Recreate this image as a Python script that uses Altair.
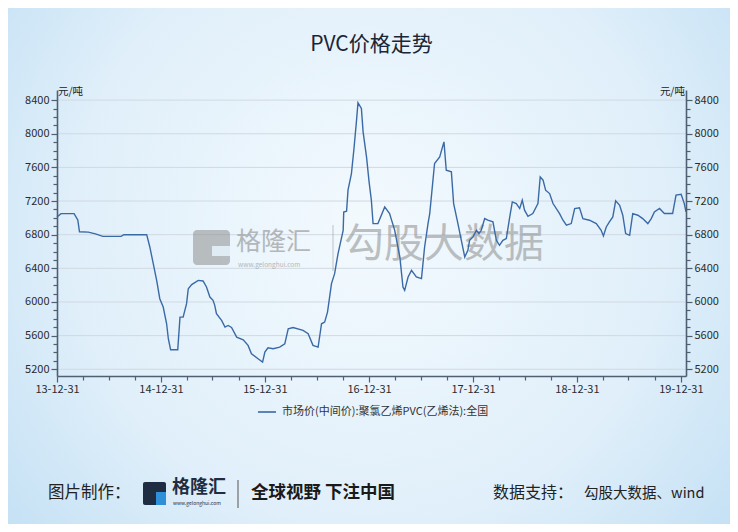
import altair as alt
import pandas as pd

# ---------------- data ----------------
dates = [
    "2013-12-31", "2014-01-14", "2014-03-01", "2014-03-14", "2014-03-20", "2014-04-20",
    "2014-05-15", "2014-06-10", "2014-08-13", "2014-08-23", "2014-11-11", "2014-11-22",
    "2014-12-04", "2014-12-16", "2014-12-27", "2015-01-08", "2015-01-20", "2015-01-26",
    "2015-02-03", "2015-02-28", "2015-03-08", "2015-03-19", "2015-03-31", "2015-04-06",
    "2015-04-18", "2015-05-11", "2015-05-28", "2015-06-09", "2015-06-21", "2015-07-02",
    "2015-07-08", "2015-07-14", "2015-08-01", "2015-08-13", "2015-08-24", "2015-09-05",
    "2015-09-23", "2015-10-16", "2015-11-02", "2015-11-14", "2015-12-07", "2015-12-23",
    "2015-12-31", "2016-01-11", "2016-01-29", "2016-02-21", "2016-03-10", "2016-03-22",
    "2016-04-08", "2016-05-13", "2016-05-31", "2016-06-17", "2016-07-05", "2016-07-17",
    "2016-07-28", "2016-08-07", "2016-08-21", "2016-09-01", "2016-09-13", "2016-10-01",
    "2016-10-03", "2016-10-13", "2016-10-18", "2016-10-30", "2016-11-08", "2016-11-17",
    "2016-11-22", "2016-12-04", "2016-12-10", "2016-12-22", "2016-12-31", "2017-01-08",
    "2017-01-14", "2017-01-31", "2017-02-24", "2017-03-13", "2017-03-31", "2017-04-18",
    "2017-04-29", "2017-05-05", "2017-05-17", "2017-05-29", "2017-06-15", "2017-07-03",
    "2017-07-14", "2017-07-26", "2017-08-01", "2017-08-18", "2017-09-05", "2017-09-20",
    "2017-09-28", "2017-10-16", "2017-10-24", "2017-11-08", "2017-11-20", "2017-12-02",
    "2017-12-13", "2017-12-19", "2017-12-31", "2018-01-12", "2018-01-21", "2018-01-29",
    "2018-02-10", "2018-02-21", "2018-03-11", "2018-03-23", "2018-04-03", "2018-04-15",
    "2018-04-27", "2018-05-09", "2018-05-18", "2018-06-01", "2018-06-13", "2018-06-22",
    "2018-06-30", "2018-07-12", "2018-07-29", "2018-08-16", "2018-08-24", "2018-09-03",
    "2018-09-12", "2018-09-26", "2018-10-08", "2018-10-31", "2018-11-12", "2018-11-24",
    "2018-12-11", "2018-12-23", "2019-01-09", "2019-01-21", "2019-02-13", "2019-03-09",
    "2019-03-26", "2019-04-03", "2019-04-13", "2019-04-24", "2019-05-06", "2019-05-16",
    "2019-05-30", "2019-06-10", "2019-06-20", "2019-07-04", "2019-07-15", "2019-08-02",
    "2019-08-19", "2019-09-06", "2019-09-18", "2019-09-29", "2019-10-17", "2019-11-03",
    "2019-12-02", "2019-12-14", "2020-01-01", "2020-01-12", "2020-01-18",
]
prices = [
    7010, 7050, 7050, 6975, 6835, 6830,
    6810, 6780, 6780, 6800, 6800, 6654,
    6456, 6257, 6039, 5940, 5741, 5563,
    5432, 5432, 5820, 5820, 5980, 6158,
    6206, 6257, 6250, 6178, 6059, 6019,
    5960, 5860, 5781, 5701, 5721, 5697,
    5582, 5551, 5484, 5384, 5325, 5285,
    5404, 5456, 5444, 5464, 5503, 5682,
    5697, 5662, 5622, 5484, 5464, 5741,
    5761, 5880, 6218, 6337, 6575, 6852,
    7070, 7080, 7329, 7527, 7825, 8162,
    8368, 8301, 8023, 7725, 7428, 7210,
    6932, 6932, 7130, 7051, 6852, 6535,
    6178, 6138, 6297, 6376, 6297, 6277,
    6654, 6932, 7051, 7646, 7725, 7904,
    7567, 7547, 7170, 6932, 6733, 6535,
    6614, 6733, 6773, 6852, 6812, 6852,
    6991, 6972, 6952, 6733, 6674, 6733,
    6753, 7011, 7190, 7170, 7111, 7210,
    7091, 7018, 7051, 7170, 7487, 7448,
    7329, 7289, 7170, 7051, 6972, 6912,
    6932, 7111, 7120, 6991, 6972, 6932,
    6852, 6785, 6892, 6952, 7011, 7202,
    7150, 7031, 6813, 6793, 7051, 7031,
    6991, 6932, 6991, 7070, 7111, 7051,
    7051, 7270, 7280, 7170, 7070,
]

y_tick_values = list(range(5200, 8401, 100))
y_grid_values = list(range(5200, 8401, 400))
x_tick_years = [2014, 2015, 2016, 2017, 2018, 2019]
quarter_ends = [(3, 31), (6, 30), (9, 30), (12, 31)]

title_text = "PVC价格走势"
unit_text = "元/吨"
legend_text = "市场价(中间价):聚氯乙烯PVC(乙烯法):全国"
wm_brand = "格隆汇"
wm_site = "www.gelonghui.com"
wm_data = "勾股大数据"
footer_made = "图片制作："
footer_slogan = "全球视野 下注中国"
footer_src_label = "数据支持："
footer_src = "勾股大数据、wind"

# ---------------- chart ----------------
df = pd.DataFrame({"date": dates, "price": prices})
grid_df = pd.DataFrame({"g": y_grid_values})

W, H = 629, 286
PAD_L, PAD_T = 49, 82
CANVAS_W, CANVAS_H = 722, 516
FONT = "Noto Sans CJK SC"
AXIS_COLOR = "#4e6072"
LABEL_COLOR = "#2b2b2b"
LINE_COLOR = "#3a6aa6"

x_ticks = [alt.DateTime(year=2013, month=12, date=31, utc=True)]
for yr in x_tick_years:
    for m, d in quarter_ends:
        x_ticks.append(alt.DateTime(year=yr, month=m, date=d, utc=True))

x_scale = alt.Scale(
    type="utc",
    domain=[alt.DateTime(year=2013, month=12, date=31, utc=True),
            alt.DateTime(year=2020, month=1, date=18, utc=True)],
)
y_scale = alt.Scale(domain=[5120, 8520], nice=False, zero=False)

major_x = "utcmonth(datum.value) === 11"
major_y = "datum.value % 400 === 0"

x_axis = alt.Axis(
    values=x_ticks,
    labelExpr=f"{major_x} ? utcFormat(datum.value, '%y-%m-%d') : ''",
    tickSize={"condition": {"test": major_x, "value": 6}, "value": 4},
    grid=False, title=None, labelOverlap=False, labelFlush=False, zindex=1,
    domainColor=AXIS_COLOR, domainWidth=1.6, tickColor=AXIS_COLOR, tickWidth=1.2,
    labelColor=LABEL_COLOR, labelFontSize=11, labelFont=FONT, labelPadding=1,
)


def y_axis(orient):
    return alt.Axis(
        orient=orient,
        values=y_tick_values,
        labelExpr=f"{major_y} ? format(datum.value, 'd') : ''",
        tickSize={"condition": {"test": major_y, "value": 6}, "value": 4},
        grid=False, zindex=1,
        title=None, labelOverlap=False, labelFlush=False,
        domainColor=AXIS_COLOR, domainWidth=1.6, tickColor=AXIS_COLOR, tickWidth=1.2,
        labelColor=LABEL_COLOR, labelFontSize=11, labelFont=FONT, labelPadding=2,
    )


one = pd.DataFrame({"k": [0]})

bg = alt.Chart(one).mark_rect(
    fill=alt.RadialGradient(
        gradient="radial",
        stops=[
            alt.GradientStop(offset=0, color="#f3fafe"),
            alt.GradientStop(offset=0.55, color="#e0effa"),
            alt.GradientStop(offset=1, color="#b9dbf2"),
        ],
        x1=0.5, y1=0.45, r1=0, x2=0.5, y2=0.45, r2=0.75,
    )
).encode(
    x=alt.value(-PAD_L), x2=alt.value(CANVAS_W - PAD_L),
    y=alt.value(-PAD_T), y2=alt.value(CANVAS_H - PAD_T),
)

grid = alt.Chart(grid_df).mark_rule(color="#d0d9e2", strokeWidth=1).encode(
    y=alt.Y("g:Q", scale=y_scale, axis=None),
    x=alt.value(0), x2=alt.value(W),
)


def txt(s, x, y, size, color="#222222", align="left", weight="normal", opacity=1.0,
        baseline="middle"):
    return alt.Chart(pd.DataFrame({"t": [s]})).mark_text(
        font=FONT, fontSize=size, color=color, align=align, baseline=baseline,
        fontWeight=weight, opacity=opacity,
    ).encode(x=alt.value(x), y=alt.value(y), text="t:N")


def box(x, y, x2, y2, color, opacity=1.0, radius=0):
    return alt.Chart(one).mark_rect(color=color, opacity=opacity, cornerRadius=radius).encode(
        x=alt.value(x), x2=alt.value(x2), y=alt.value(y), y2=alt.value(y2)
    )


def rule(x, y, x2, y2, color, width=1.0, opacity=1.0):
    return alt.Chart(one).mark_rule(color=color, strokeWidth=width, opacity=opacity).encode(
        x=alt.value(x), x2=alt.value(x2), y=alt.value(y), y2=alt.value(y2)
    )


WM = "#8e8e8e"
watermark = alt.layer(
    box(136, 140, 173, 175, WM, 0.55, 4),
    box(155, 156, 173, 166, "#e4f1fa", 0.9, 0),
    txt(wm_brand, 179, 152, 25, WM, opacity=0.6),
    txt(wm_site, 181, 175, 6.5, WM, opacity=0.6),
    rule(276, 135, 276, 181, WM, 1, 0.5),
    txt(wm_data, 287, 155, 40, WM, opacity=0.55),
)

line_left = alt.Chart(df).mark_line(color=LINE_COLOR, strokeWidth=1.4).encode(
    x=alt.X("date:T", scale=x_scale, axis=x_axis),
    y=alt.Y("price:Q", scale=y_scale, axis=y_axis("left")),
)
line_right = alt.Chart(df).mark_line(color=LINE_COLOR, strokeWidth=1.4, opacity=0).encode(
    x=alt.X("date:T", scale=x_scale, axis=x_axis),
    y=alt.Y("price:Q", scale=y_scale, axis=y_axis("right")),
)

texts = alt.layer(
    txt(title_text, W / 2, -45, 21, "#1b2536", align="center"),
    txt(unit_text, 1, 2, 10.5, "#222222"),
    txt(unit_text, W - 1, 2, 10.5, "#222222", align="right"),
    rule(201, 322, 219, 322, LINE_COLOR, 1.6),
    txt(legend_text, 225, 322, 11, "#333333"),
    # footer
    txt(footer_made, -9, 403, 16.5, "#222222"),
    box(86, 392, 109, 415, "#1f2d42", 1, 2),
    box(99, 402, 109, 415, "#2f8fd8", 1, 0),
    txt(wm_brand, 115, 398, 18, "#1f2d42", weight="bold"),
    txt(wm_site, 116, 413, 5, "#1f2d42"),
    rule(181, 390, 181, 418, "#555555", 1),
    txt(footer_slogan, 194, 403, 17.5, "#1a1a1a", weight="bold"),
    txt(footer_src_label, 436, 403, 16, "#222222"),
    txt(footer_src, 527, 404, 14.5, "#222222"),
)

chart = alt.layer(bg, grid, watermark, line_left, line_right, texts).resolve_axis(
    y="independent"
).properties(
    width=W, height=H,
    autosize=alt.AutoSizeParams(type="none"),
    padding={"left": PAD_L, "top": PAD_T, "right": CANVAS_W - PAD_L - W, "bottom": CANVAS_H - PAD_T - H},
    background="#d3e8f6",
).configure_view(stroke=None)

chart.save("out.html", embed_options={"renderer": "svg", "actions": False})
